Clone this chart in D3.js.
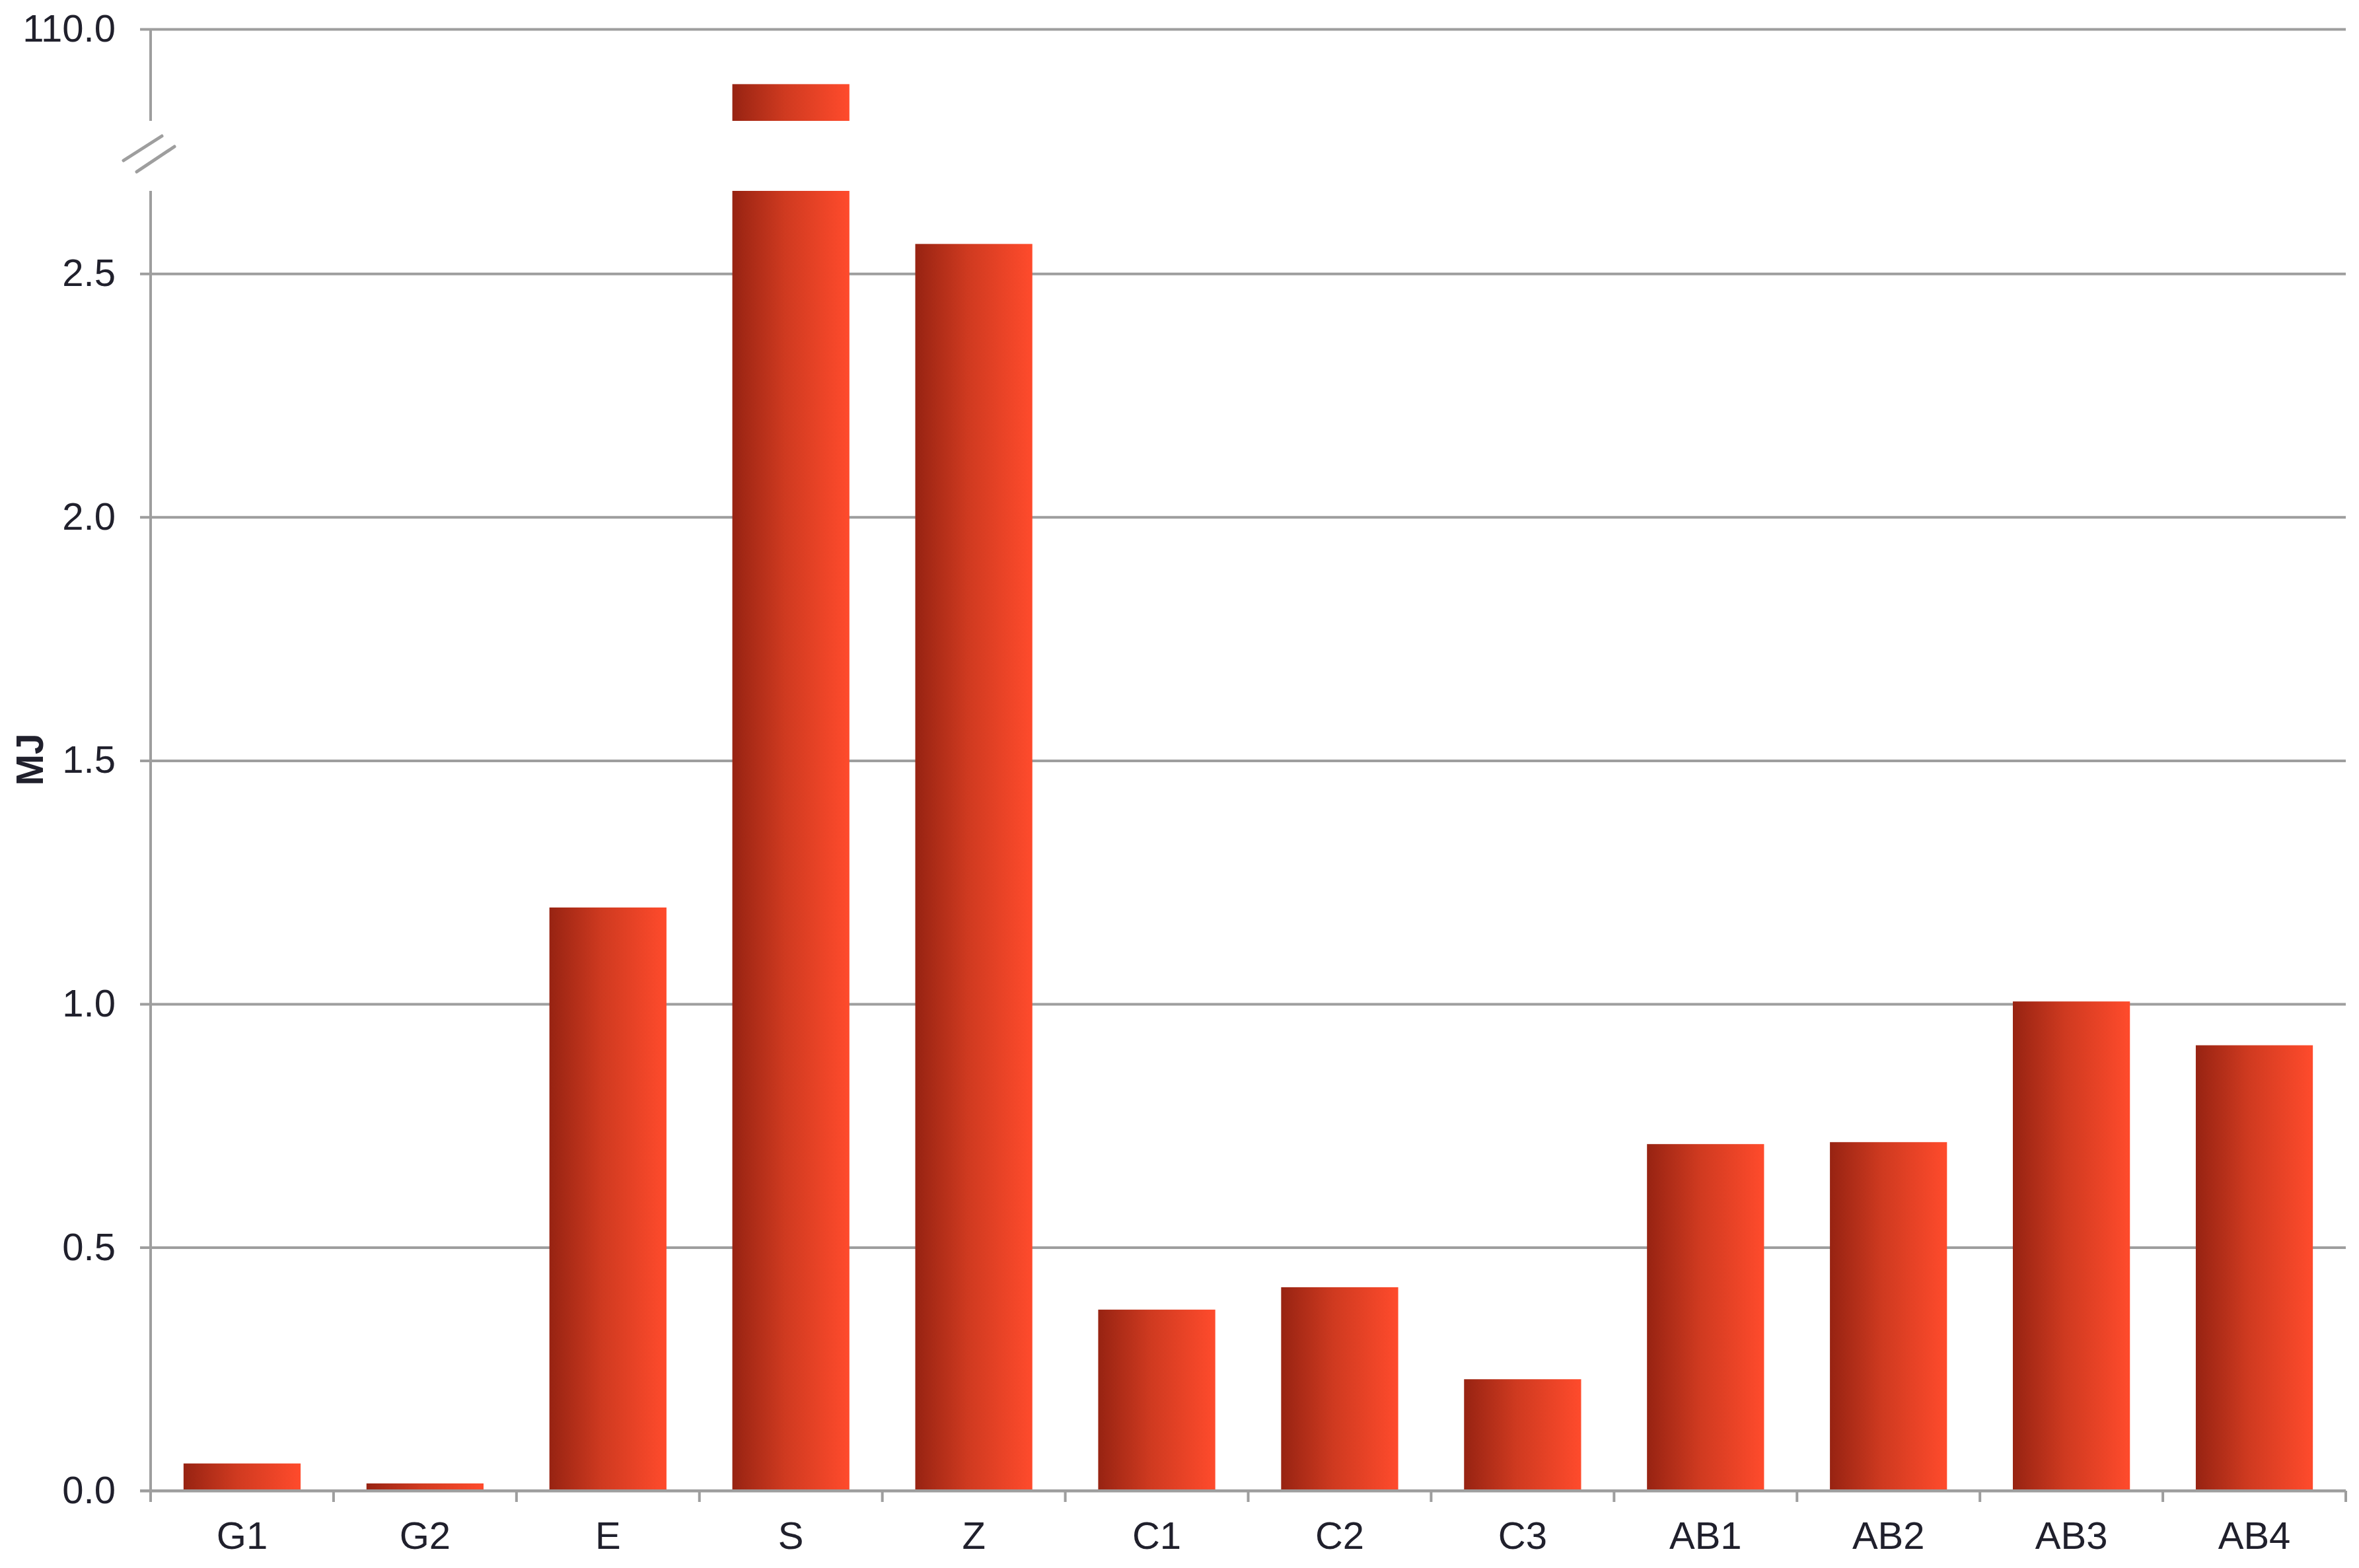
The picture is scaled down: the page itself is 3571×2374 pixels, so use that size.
<!DOCTYPE html>
<html lang="en">
  <head>
    <meta charset="UTF-8" />
    <title>MJ bar chart</title>
    <style>
      body { margin: 0; background: #fff; }
      text { font-family: "Liberation Sans", Arial, sans-serif; fill: #20202c; }
    </style>
  </head>
  <body>
    <div id="wrapper"></div>
    <script src="https://d3js.org/d3.v7.min.js"></script>
    <script>
      // data
      const categories = ["G1", "G2", "E", "S", "Z", "C1", "C2", "C3", "AB1", "AB2", "AB3", "AB4"];
      const values = [0.056, 0.015, 1.198, 104, 2.561, 0.372, 0.418, 0.229, 0.712, 0.716, 1.005, 0.915];
      const lowTicks = [0, 0.5, 1.0, 1.5, 2.0, 2.5];
      const highTicks = [110];
      const lowDomain = [0, 2.67];
      const highDomain = [100, 110];

      const W = 3571, H = 2374;
      const plotLeft = 228, plotRight = 3551;
      const plotTop = 44, breakBottom = 183, lowTop = 289, base = 2257;

      const svg = d3.select("#wrapper")
        .append("svg")
          .attr("width", W)
          .attr("height", H);

      const grad = svg.append("defs").append("linearGradient")
        .attr("id", "barGrad")
        .attr("x1", "0%").attr("x2", "100%").attr("y1", "0%").attr("y2", "0%");
      grad.append("stop").attr("offset", "0%").attr("stop-color", "#972312");
      grad.append("stop").attr("offset", "45%").attr("stop-color", "#cf3a20");
      grad.append("stop").attr("offset", "100%").attr("stop-color", "#ff4b2c");

      const x = d3.scaleBand()
        .domain(categories)
        .range([plotLeft, plotRight])
        .paddingInner(0.36)
        .paddingOuter(0.18);

      const yLow = d3.scaleLinear().domain(lowDomain).range([base, lowTop]);
      const yHigh = d3.scaleLinear().domain(highDomain).range([breakBottom, plotTop]);

      const gridColor = "#9e9e9e";

      // lower axis + gridlines
      const gLow = svg.append("g")
        .attr("transform", `translate(${plotLeft},0)`)
        .call(d3.axisLeft(yLow).tickValues(lowTicks).tickFormat(d3.format(".1f"))
          .tickSize(-(plotRight - plotLeft)).tickPadding(53));
      gLow.select(".domain").remove();
      gLow.selectAll(".tick line").attr("x1", -16).attr("stroke", gridColor).attr("stroke-width", 4);
      gLow.selectAll(".tick text").attr("font-size", 58);

      // upper axis
      const gHigh = svg.append("g")
        .attr("transform", `translate(${plotLeft},0)`)
        .call(d3.axisLeft(yHigh).tickValues(highTicks).tickFormat(d3.format(".1f"))
          .tickSize(-(plotRight - plotLeft)).tickPadding(53));
      gHigh.select(".domain").remove();
      gHigh.selectAll(".tick line").attr("x1", -16).attr("stroke", gridColor).attr("stroke-width", 4);
      gHigh.selectAll(".tick text").attr("font-size", 58);

      // y axis line, broken
      svg.append("line")
        .attr("x1", plotLeft).attr("x2", plotLeft)
        .attr("y1", plotTop).attr("y2", breakBottom)
        .attr("stroke", gridColor).attr("stroke-width", 4);
      svg.append("line")
        .attr("x1", plotLeft).attr("x2", plotLeft)
        .attr("y1", lowTop).attr("y2", base + 17)
        .attr("stroke", gridColor).attr("stroke-width", 4);

      // break marks
      [[187, 243, 245, 206], [207, 260, 264, 222]].forEach(function (d) {
        svg.append("line")
          .attr("x1", d[0]).attr("y1", d[1]).attr("x2", d[2]).attr("y2", d[3])
          .attr("stroke", gridColor).attr("stroke-width", 5).attr("stroke-linecap", "round");
      });

      // bars
      const bars = svg.append("g");
      categories.forEach(function (c, i) {
        const v = values[i];
        if (v <= lowDomain[1]) {
          bars.append("rect")
            .attr("x", x(c)).attr("width", x.bandwidth())
            .attr("y", yLow(v)).attr("height", yLow(0) - yLow(v))
            .attr("fill", "url(#barGrad)");
        } else {
          // broken bar: full lower part + upper stub
          bars.append("rect")
            .attr("x", x(c)).attr("width", x.bandwidth())
            .attr("y", lowTop).attr("height", yLow(0) - lowTop)
            .attr("fill", "url(#barGrad)");
          bars.append("rect")
            .attr("x", x(c)).attr("width", x.bandwidth())
            .attr("y", yHigh(v)).attr("height", breakBottom - yHigh(v))
            .attr("fill", "url(#barGrad)");
        }
      });

      // x axis
      svg.append("line")
        .attr("x1", plotLeft - 16).attr("x2", plotRight)
        .attr("y1", base).attr("y2", base)
        .attr("stroke", gridColor).attr("stroke-width", 4);
      d3.range(categories.length + 1).forEach(function (i) {
        const bx = plotLeft + i * x.step();
        svg.append("line")
          .attr("x1", bx).attr("x2", bx)
          .attr("y1", base).attr("y2", base + 17)
          .attr("stroke", gridColor).attr("stroke-width", 4);
      });
      const gx = svg.append("g")
        .attr("transform", `translate(0,${base})`)
        .call(d3.axisBottom(x).tickSize(0).tickPadding(47));
      gx.select(".domain").remove();
      gx.selectAll(".tick text").attr("font-size", 58);

      // y label
      svg.append("text")
        .attr("transform", `translate(65,${(1110 + 1190) / 2}) rotate(-90)`)
        .attr("text-anchor", "middle")
        .attr("font-size", 57)
        .attr("font-weight", "bold")
        .text("MJ");
    </script>
  </body>
</html>
